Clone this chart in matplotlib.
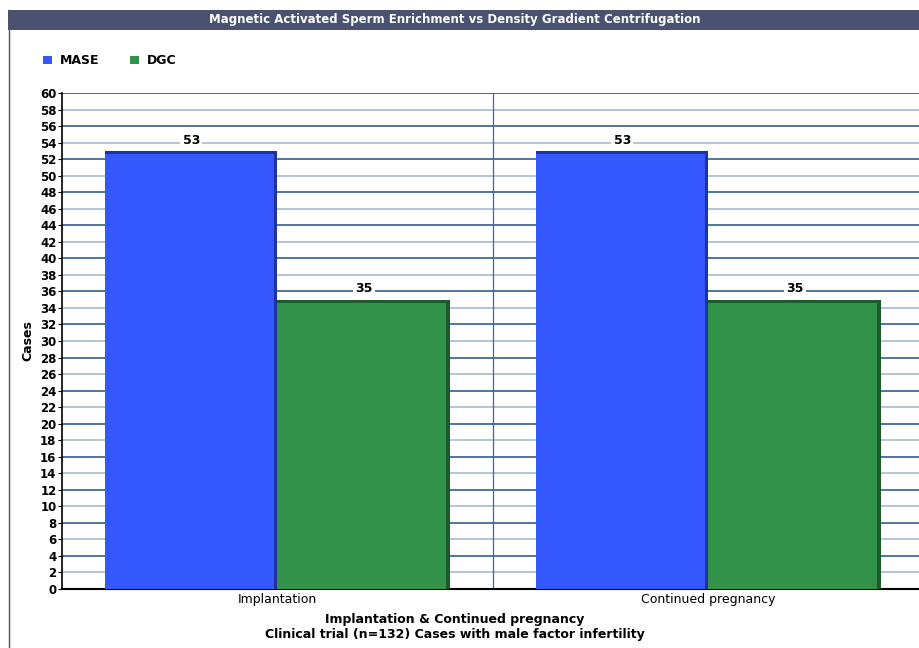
import numpy as np
import matplotlib.pyplot as plt
from matplotlib.patches import Rectangle

categories = ["Implantation", "Continued pregnancy"]
mase = [53, 53]
dgc = [35, 35]
series_names = ["MASE", "DGC"]
yticks = list(range(0, 62, 2))

blue, blue_dark = "#3359fe", "#1f33a0"
green, green_dark = "#32924a", "#1d5a2b"

fig = plt.figure(figsize=(9.2, 6.48), dpi=100)
W, H = 920, 648

# title bar
fig.patches.append(Rectangle((8 / W, 1 - 30 / H), 1, 20 / H, transform=fig.transFigure,
                             facecolor="#4a5272", edgecolor="none"))
fig.text(455 / W, 1 - 20 / H, "Magnetic Activated Sperm Enrichment vs Density Gradient Centrifugation",
         color="white", fontsize=8.5, ha="center", va="center", fontweight="bold")
fig.add_artist(plt.Line2D([8.5 / W, 8.5 / W], [0, 1 - 10 / H], color="#555555", lw=1))

ax = fig.add_axes([62 / W, 59 / H, 862 / W, 496 / H])
x = np.arange(len(categories))
w = 0.4
ax.bar(x - w / 2, mase, w, color=blue, label=series_names[0], zorder=3)
ax.bar(x + w / 2, dgc, w, color=green, label=series_names[1], zorder=3)
# darker side strips for the 3d look
side = 0.008
ax.bar(x - side / 2, mase, side, color=blue_dark, zorder=3)
ax.bar(x + w - side / 2, dgc, side, color=green_dark, zorder=3)
ax.bar(x - w / 2, [0.35] * 2, w, bottom=np.array(mase) - 0.35, color=blue_dark, zorder=3)
ax.bar(x + w / 2, [0.35] * 2, w, bottom=np.array(dgc) - 0.35, color=green_dark, zorder=3)

for xi, v in zip(x - w / 2, mase):
    ax.text(xi, v + 1.3, str(v), ha="center", va="center", fontsize=9, fontweight="bold",
            bbox=dict(facecolor="white", edgecolor="none", pad=1.5), zorder=4)
for xi, v in zip(x + w / 2, dgc):
    ax.text(xi, v + 1.3, str(v), ha="center", va="center", fontsize=9, fontweight="bold",
            bbox=dict(facecolor="white", edgecolor="none", pad=1.5), zorder=4)

for i, t in enumerate(yticks[1:-1], 1):
    ax.axhline(t, color="#1f4f86" if i % 2 == 0 else "#9fb6cc", lw=1.1, zorder=1)
ax.axhline(60, color="#444444", lw=1.2, zorder=1)
ax.axvline(0.5, color="#3a6a9a", lw=0.9, zorder=1)

ax.set_xlim(-0.5, 1.5)
ax.set_ylim(0, 60)
ax.set_yticks(yticks)
ax.set_yticklabels([str(t) for t in yticks], fontsize=8.5, fontweight="bold")
ax.set_xticks(x)
ax.set_xticklabels(categories, fontsize=9)
ax.tick_params(axis="x", length=0, pad=3)
ax.tick_params(axis="y", length=3, pad=1)
for s in ["top", "right"]:
    ax.spines[s].set_visible(False)
ax.spines["bottom"].set_linewidth(1.5)
ax.spines["left"].set_linewidth(1.2)
ax.set_ylabel("Cases", fontsize=9, fontweight="bold", labelpad=4)
ax.set_xlabel("Implantation & Continued pregnancy\nClinical trial (n=132) Cases with male factor infertility",
              fontsize=9, fontweight="semibold", labelpad=5, x=(455 - 62) / 862, linespacing=1.2)

fig.legend(loc="upper left", bbox_to_anchor=(32 / W, 1 - 43 / H), ncol=2, frameon=False,
           prop={"weight": "bold", "size": 9}, handlelength=0.7, handleheight=0.7,
           columnspacing=2.5, handletextpad=0.6)

fig.savefig("out.png", dpi=100, facecolor="white")
